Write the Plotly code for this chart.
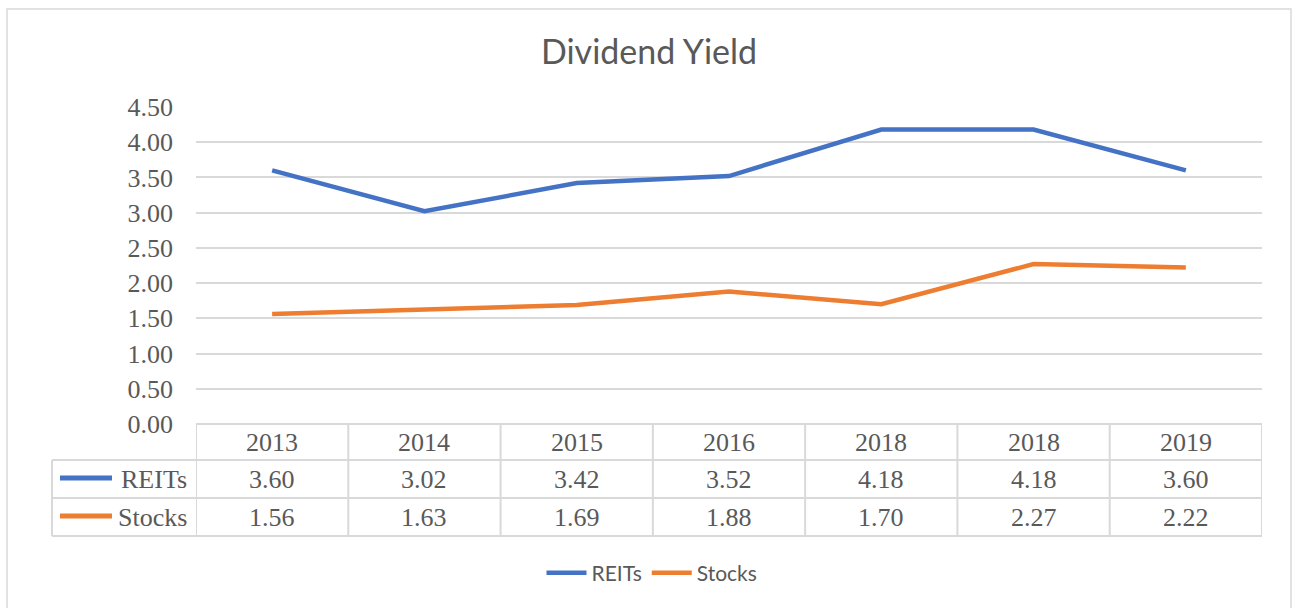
import plotly.graph_objects as go

years = ["2013", "2014", "2015", "2016", "2018", "2018", "2019"]
reits = [3.60, 3.02, 3.42, 3.52, 4.18, 4.18, 3.60]
stocks = [1.56, 1.63, 1.69, 1.88, 1.70, 2.27, 2.22]
series_names = ["REITs", "Stocks"]
colors = ["#4472C4", "#ED7D31"]
y_ticks = [0, 0.5, 1, 1.5, 2, 2.5, 3, 3.5, 4, 4.5]

W, H = 1297, 608
L, R, T, B = 196, 1262, 107, 424
pw, ph = R - L, B - T


def px(x):
    return (x - L) / pw


def py(y):
    return (B - y) / ph


GRID = "#d9d9d9"
TXT = "#595959"
SERIF = "Liberation Serif, Times New Roman, serif"
SANS = "Lato, Carlito, Calibri, sans-serif"
FS = 26

xs = list(range(len(years)))
fig = go.Figure()
for name, vals, c in zip(series_names, [reits, stocks], colors):
    fig.add_trace(go.Scatter(x=xs, y=vals, mode="lines", name=name,
                             line=dict(color=c, width=4.5), hoverinfo="x+y"))

shapes = []
ann = []
# outer chart border
shapes.append(dict(type="rect", xref="paper", yref="paper",
                   x0=px(7), x1=px(1291), y0=py(640), y1=py(9),
                   line=dict(color="#d9d9d9", width=1.5), layer="below"))
# table horizontal lines
row_y = [424, 460, 498, 536]
for i, yy in enumerate(row_y):
    x0 = L if i == 0 else 52
    shapes.append(dict(type="line", xref="paper", yref="paper",
                       x0=px(x0), x1=px(R), y0=py(yy), y1=py(yy),
                       line=dict(color=GRID, width=2)))
# vertical lines
shapes.append(dict(type="line", xref="paper", yref="paper",
                   x0=px(52), x1=px(52), y0=py(460), y1=py(536),
                   line=dict(color=GRID, width=2)))
for i in range(len(years) + 1):
    shapes.append(dict(type="line", xref="x", yref="paper",
                       x0=i - 0.5, x1=i - 0.5, y0=py(424), y1=py(536),
                       line=dict(color=GRID, width=2)))
# table header
for i, yl in enumerate(years):
    ann.append(dict(x=i, y=py(442), xref="x", yref="paper", text=yl,
                    xanchor="center", yanchor="middle",
                    showarrow=False, font=dict(family=SERIF, size=FS, color=TXT)))
# table rows
for r, (name, vals, c) in enumerate(zip(series_names, [reits, stocks], colors)):
    yc = (row_y[r + 1] + row_y[r + 2]) / 2
    for i, v in enumerate(vals):
        ann.append(dict(x=i, y=py(yc), xref="x", yref="paper", text=f"{v:.2f}",
                        xanchor="center", yanchor="middle",
                        showarrow=False, font=dict(family=SERIF, size=FS, color=TXT)))
    shapes.append(dict(type="line", xref="paper", yref="paper",
                       x0=px(60), x1=px(112), y0=py(yc - 1), y1=py(yc - 1),
                       line=dict(color=c, width=5)))
    ann.append(dict(x=px(189), y=py(yc), xref="paper", yref="paper", text=name,
                    xanchor="right", yanchor="middle", showarrow=False,
                    font=dict(family=SERIF, size=FS, color=TXT)))

fig.update_layout(
    width=W, height=H,
    margin=dict(l=L, r=W - R, t=T, b=H - B),
    paper_bgcolor="white", plot_bgcolor="white",
    title=dict(text="Dividend Yield", x=649 / W, xanchor="center", y=1 - 52 / H, yanchor="middle",
               font=dict(family=SANS, size=34, color=TXT)),
    xaxis=dict(range=[-0.5, len(years) - 0.5], showticklabels=False, showgrid=False,
               zeroline=False, showline=False, fixedrange=True),
    yaxis=dict(range=[0, 4.5], tickvals=y_ticks, tickformat=".2f",
               showgrid=True, gridcolor=GRID, gridwidth=1.5, zeroline=False, showline=False,
               tickfont=dict(family=SERIF, size=FS, color=TXT), ticklabelstandoff=22,
               fixedrange=True),
    legend=dict(orientation="h", x=px(652), xanchor="center", y=py(573), yanchor="middle",
                font=dict(family=SANS, size=21, color=TXT), itemwidth=40),
    shapes=shapes, annotations=ann, showlegend=True,
)

fig.write_html("out.html", config={"displayModeBar": False},
               post_script="document.body.style.margin='0';")
